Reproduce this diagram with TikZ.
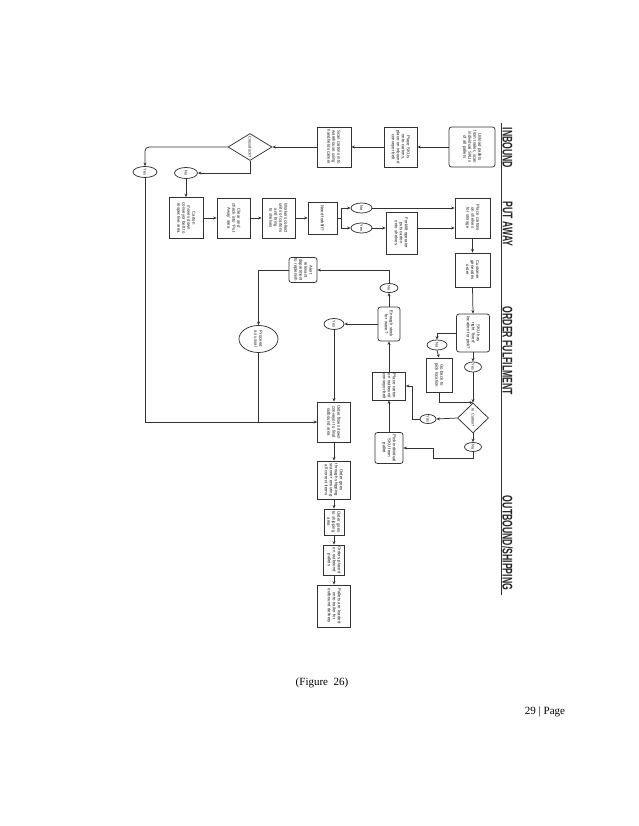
\documentclass[tikz,border=0pt]{standalone}
\usepackage{fontspec}
\setmainfont{Liberation Sans}
\newfontfamily\serifft{Liberation Serif}
\usetikzlibrary{arrows.meta,shapes.geometric}
\hyphenpenalty=10000
\exhyphenpenalty=10000
\begin{document}
\begin{tikzpicture}[x=1pt,y=-1pt,
 base/.style={rotate=-90, font=\fontsize{4.3}{5}\selectfont, align=center, inner sep=0.8pt, draw=black!80, line width=0.75pt, fill=white, text=black!90},
 bx/.style={base, rectangle},
 rbx/.style={base, rectangle, rounded corners=2.5pt},
 ov/.style={base, ellipse, inner sep=0pt, font=\fontsize{3.9}{4.6}\selectfont},
 dm/.style={base, diamond, inner sep=0pt, font=\fontsize{3.9}{4.6}\selectfont},
 sz/.style n args={3}{minimum width=#1pt, minimum height=#2pt, text width=#3pt},
 osz/.style n args={2}{minimum width=#1pt, minimum height=#2pt},
 ln/.style={line width=0.75pt, draw=black!80},
 ar/.style={ln, -{Stealth[length=3.5pt,width=3pt]}},
 lane/.style={rotate=-90, font=\bfseries\fontsize{14}{14}\selectfont, inner sep=0pt, text=black!85},
 foot/.style={font=\serifft\fontsize{11}{13}\selectfont, inner sep=0pt},
]
\fill[white] (0,0) rectangle (638,826);
\useasboundingbox (0,0) rectangle (638,826);

% lane header
\coordinate (lt) at (501,123);
\coordinate (lb) at (501,595);
\draw[ln, line width=0.8pt] (lt) -- (lb);
\node[lane] (l1) at (507.5,148) {\scalebox{0.62}[1]{INBOUND}};
\node[lane] (l2) at (507.5,224) {\scalebox{0.62}[1]{PUT AWAY}};
\node[lane] (l3) at (507.5,351) {\scalebox{0.62}[1]{ORDER FULFILMENT}};
\node[lane] (l4) at (507.5,543) {\scalebox{0.62}[1]{OUTBOUND/SHIPPING}};

% inbound row
\node[rbx, sz={40}{46}{36}] (b1) at (472,147) {Unload pallets from trailer, scan individual SKUs of all pallets};
\node[bx, sz={40}{33}{36}] (b2) at (400.5,147) {Place SKUs onto cartons, place on inbound conveyor belt};
\node[bx, sz={40}{34}{36}] (b3) at (334,147) {Scan cartons into warehouse using handheld scanner};
\node[dm, osz={27}{44}] (dc) at (250,147) {Crossdock?};
\node[ov, osz={11}{24}] (yes1) at (145,172) {Yes};
\node[ov, osz={11}{23}] (no1) at (186,173) {No};

% put away row
\node[bx, sz={41}{34}{37}] (b4) at (186,218) {Carton moves down conveyor belt to respective area};
\node[bx, sz={40}{33}{36}] (b5) at (233.5,218) {Clear and check into `Put Away' area};
\node[bx, sz={40}{33}{36}] (b6) at (278.5,218) {Workers collect units of cartons and bring to shelves};
\node[bx, sz={32}{29}{28}] (b7) at (322.5,218) {Need forklift?};
\node[ov, osz={10}{21}] (noP) at (361.5,208) {No};
\node[ov, osz={10}{21}] (yesP) at (361.5,228) {Yes};
\node[bx, sz={42}{31}{38}] (b8) at (401.5,233) {Forklift operator puts carton onto shelves};
\node[bx, sz={40}{35}{36}] (b9) at (472.5,218) {Place cartons on shelves for storage};

% order fulfilment
\node[bx, sz={34}{35}{30}] (b10) at (472.5,270) {Customer generates order};
\node[rbx, sz={38}{33}{34}] (b11) at (473,333) {SKU has right `fixed' location for pick?};
\node[ov, osz={10}{17}] (yesO) at (473,367) {Yes};
\node[ov, osz={10}{20}] (noO) at (437,345) {No};
\node[bx, sz={34}{26}{30}] (gb) at (439,375) {Go back to pick location};
\node[dm, osz={30}{31}] (dI) at (473,418) {In Carton?};
\node[ov, osz={9}{16}] (yI) at (428,419) {Yes};
\node[ov, osz={9}{17}] (nI) at (473,447) {No};
\node[rbx, sz={31}{28}{28}] (bpk) at (389,448) {Pick individual SKU from pallet};
\node[bx, sz={28}{33}{26}] (bpc) at (389,386) {Place carton on outbound conveyor belt};
\node[rbx, sz={34}{22}{30}] (es) at (389,324) {Enough stock for wave?};
\node[ov, osz={9}{18}] (noE) at (389,288) {No};
\node[rbx, sz={25}{28}{23}] (al) at (303,270) {Alert relevant department to replenish};
\node[base, ellipse, inner sep=0pt, sz={27}{39}{17}] (pr) at (258.5,339) {Proceed as usual};
\node[ov, osz={11}{20}] (yE) at (334,324) {Yes};

% outbound
\node[bx, sz={40}{33}{36}] (b12) at (334,422) {Order flows down conveyor to final outbound area};
\node[bx, sz={38}{33}{36}] (b13) at (334,480) {Order goes through shipping scanner ensuring all correct items};
\node[bx, sz={26}{20}{24}] (b14) at (334,522) {Order goes to shipping area};
\node[bx, sz={30}{21}{28}] (b15) at (334,560) {Orders placed on outbound pallets};
\node[bx, sz={42}{33}{38}] (b16) at (334,606) {Pallets are loaded onto trailer for outbound delivery};

% connectors
\draw[ar] (b1.south) -- (b2.north);
\draw[ar] (b2.south) -- (b3.north);
\draw[ar] (b3.south) -- (dc.north);
\draw[ar, rounded corners=4pt] (dc.south) -| (yes1.west);
\draw[ar] (dc.east) |- (no1.north);
\draw[ar] (no1.east) -- (b4.west);
\draw[ar] (b4.north) -- (b5.south);
\draw[ar] (b5.north) -- (b6.south);
\draw[ar] (b6.north) -- (b7.south);
\draw[ln] (b7.north) -- ++(4,0) coordinate (j7);
\draw[ar] (j7) |- (noP.south);
\draw[ar] (j7) |- (yesP.south);
\draw[ar] (noP.north) -- (noP.north -| b9.south);
\draw[ar] (yesP.north) -- (yesP.north -| b8.south);
\draw[ar] (yesP.north -| b8.north) -- (yesP.north -| b9.south);
\draw[ar] (b9.east) -- (b10.west);
\draw[ar] (b10.east) -- (b11.west);
\draw[ar] (b11.east) -- (yesO.west);
\draw[ar] (yesO.east) -- (dI.west);
\draw[ar] (b11.south) -| (noO.west);
\draw[ar] (noO.east) -- (gb.west);
\draw[ar] (gb.east) |- (dI.west);
\draw[ar] (dI.south) -- (yI.north);
\draw[ar] (yI.south) -- ++(-7,0) |- (bpc.north);
\draw[ar] (dI.east) -- (nI.west);
\draw[ar] (nI.east) |- (433,458) |- (bpk.north);
\draw[ar] (bpk.west) -- (bpc.east);
\draw[ar] (bpc.west) -- (es.east);
\draw[ar] (es.west) -- (noE.east);
\draw[ar] (noE.west) |- (al.north);
\draw[ar] (al.south) -| (pr.west);
\draw[ln] (pr.east) -- (pr.east |- b12.south);
\draw[ar] (yes1.east) |- (b12.south);
\draw[ar] (es.south) -- (yE.north);
\draw[ar] (yE.east) -- (b12.west);
\draw[ar] (b12.east) -- (b13.west);
\draw[ar] (b13.east) -- (b14.west);
\draw[ar] (b14.east) -- (b15.west);
\draw[ar] (b15.east) -- (b16.west);

% footer
\node[foot] (fig) at (322,683) {(Figure\ \ 26)};
\node[foot] (pg) at (545,712) {29 | Page};
\end{tikzpicture}
\end{document}
